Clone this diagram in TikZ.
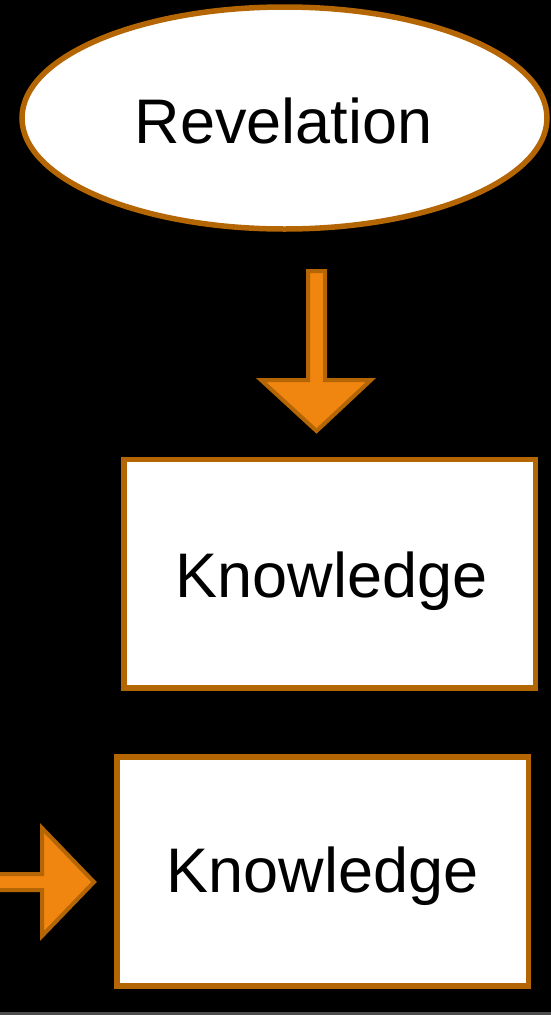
\documentclass[tikz,border=0pt]{standalone}
\usepackage{fontspec}
\setmainfont{Liberation Sans}
\usetikzlibrary{shapes.geometric}
\definecolor{edgeorange}{HTML}{B46504}
\definecolor{fillorange}{HTML}{F0850F}
\definecolor{stripgray}{HTML}{4D4D4D}
\begin{document}
\begin{tikzpicture}[x=1pt,y=-1pt,
  frame/.style={draw=edgeorange,line width=5.5pt,fill=white},
  blockarrow/.style={draw=edgeorange,line width=4pt,fill=fillorange,line join=miter},
  label/.style={font=\fontsize{63}{75}\selectfont,anchor=base,inner sep=0pt,text=black}]
\fill[black] (0,0) rectangle (551,1015);
\useasboundingbox (0,0) rectangle (551,1015);
\fill[stripgray] (0,1012) rectangle (551,1015);
% ellipse
\node[frame,ellipse,minimum width=525pt,minimum height=222pt,inner sep=0pt] (rev) at (284.5,118) {};
\node[label] (revtext) at (283.5,143) {Revelation};
% boxes
\draw[frame] (124,459.5) rectangle (535.5,688);
\coordinate (k1) at (329.75,573.75);
\node[label] (k1text) at (331.5,597) {Knowledge};
\draw[frame] (117,757) rectangle (528.5,986);
\coordinate (k2) at (322.75,871.5);
\node[label] (k2text) at (322.5,892) {Knowledge};
% down block arrow
\draw[blockarrow] (308,271) -- (325,271) -- (325,380) -- (371,380) -- (316.5,431) -- (261,380) -- (308,380) -- cycle;
% right block arrow
\draw[blockarrow] (-5,874) -- (42,874) -- (42,828) -- (94,882) -- (42,936) -- (42,890) -- (-5,890) -- cycle;
\end{tikzpicture}
\end{document}
